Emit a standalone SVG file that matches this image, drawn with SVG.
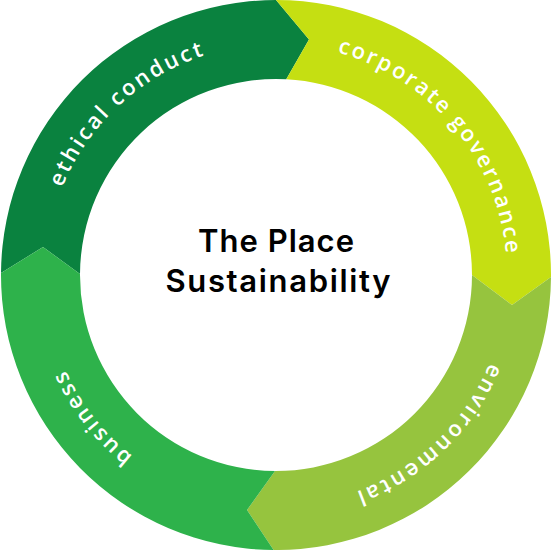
<svg xmlns="http://www.w3.org/2000/svg" width="552" height="550" viewBox="0 0 552 550">
<style>
.ring{font-family:"Open Sans","Liberation Sans",sans-serif;font-size:22px;font-weight:600;fill:#ffffff}
.title{font-family:Inter,"Open Sans","Liberation Sans",sans-serif;font-size:31px;font-weight:600;fill:#000000;text-anchor:middle}
</style>
<defs>
<path id="p-ethical" d="M50.92,326.96 A231,231 0 0 1 343.54,54.09"/>
<path id="p-corporate" d="M235.89,47.51 A231,231 0 0 1 493.07,354.01"/>
<path id="p-environmental" d="M500.14,219.12 A231,231 0 0 1 212.33,497.05"/>
<path id="p-business" d="M308.15,503.75 A231,231 0 0 1 61.82,188.47"/>
</defs>
<rect width="552" height="550" fill="#ffffff"/>
<g id="ethical-conduct">
<path fill="#0a823f" d="M1,273 A275,275 0 0 1 276,0 L309,39.5 L286.26,79.27 A196,196 0 0 0 80,274 L43,247 Z"/>
<text class="ring"><textPath href="#p-ethical" startOffset="50%" text-anchor="middle" textLength="200">ethical conduct</textPath></text>
</g>
<g id="corporate-governance">
<path fill="#c5df12" d="M276,0 A275,275 0 0 1 551,277 L512,305 L472,275 A196,196 0 0 0 286.26,79.27 L309,39.5 Z"/>
<text class="ring"><textPath href="#p-corporate" startOffset="50%" text-anchor="middle" textLength="279">corporate governance</textPath></text>
</g>
<g id="environmental">
<path fill="#96c43e" d="M551,277 A275,275 0 0 1 273.6,550 L247,510 L275,471 A196,196 0 0 0 472,275 L512,305 Z"/>
<text class="ring"><textPath href="#p-environmental" startOffset="50%" text-anchor="middle" textLength="191">environmental</textPath></text>
</g>
<g id="business">
<path fill="#2eb24b" d="M273.6,550 A275,275 0 0 1 1,273 L43,247 L80,274 A196,196 0 0 0 275,471 L247,510 Z"/>
<text class="ring"><textPath href="#p-business" startOffset="50%" text-anchor="middle" textLength="110">business</textPath></text>
</g>
<g id="center">
<text class="title" x="276" y="252" textLength="156">The Place</text>
<text class="title" x="278" y="292" textLength="225">Sustainability</text>
</g>
<g id="connectors"></g>
</svg>
